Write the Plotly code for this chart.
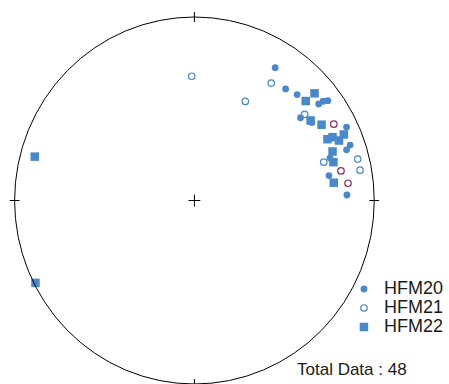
import plotly.graph_objects as go

# Stereonet (equal-area, lower hemisphere) positions in unit-net coordinates
hfm20_x = [0.449, 0.507, 0.571, 0.691, 0.716, 0.742, 0.590, 0.653, 0.846, 0.866, 0.846, 0.754, 0.748, 0.848]
hfm20_y = [0.724, 0.608, 0.577, 0.526, 0.541, 0.544, 0.451, 0.425, 0.400, 0.302, 0.276, 0.231, 0.136, 0.030]

hfm21_x = [-0.015, 0.427, 0.283, 0.613, 0.719, 0.908, 0.921]
hfm21_y = [0.677, 0.640, 0.540, 0.469, 0.209, 0.226, 0.165]

hfm21b_x = [0.775, 0.815, 0.854]
hfm21b_y = [0.416, 0.161, 0.094]

hfm22_x = [0.668, 0.619, 0.646, 0.707, 0.740, 0.768, 0.804, 0.831, 0.768, 0.773, 0.775, -0.888, -0.884]
hfm22_y = [0.584, 0.542, 0.436, 0.413, 0.334, 0.345, 0.327, 0.360, 0.267, 0.209, 0.097, 0.239, -0.449]

series_names = ["HFM20", "HFM21", "HFM22"]
total_label = "Total Data : 48"

BLUE = "#4A88C9"
MAROON = "#8C2E5E"

W, H = 449, 384
CX, CY, R = 198.4, 200.5, 183.5

def lname(s):
    return "<span style='font-size:18px'>" + s + "</span>"

fig = go.Figure()
fig.add_trace(go.Scatter(x=hfm20_x, y=hfm20_y, mode="markers", name=lname(series_names[0]),
                         marker=dict(symbol="circle", size=6.8, color=BLUE, line=dict(width=0))))
fig.add_trace(go.Scatter(x=hfm21_x, y=hfm21_y, mode="markers", name=lname(series_names[1]),
                         marker=dict(symbol="circle-open", size=6.5, color=BLUE, line=dict(width=1.2))))
fig.add_trace(go.Scatter(x=hfm21b_x, y=hfm21b_y, mode="markers", showlegend=False,
                         marker=dict(symbol="circle-open", size=6.5, color=MAROON, line=dict(width=1.2))))
fig.add_trace(go.Scatter(x=hfm22_x, y=hfm22_y, mode="markers", name=lname(series_names[2]),
                         marker=dict(symbol="square", size=8.5, color=BLUE, line=dict(width=0))))

shapes = [dict(type="circle", xref="x", yref="y", x0=-1, y0=-1, x1=1, y1=1,
               line=dict(color="black", width=1))]
t = 5 / R
c = 6 / R
for (px, py) in [(0, 1), (0, -1)]:
    shapes.append(dict(type="line", x0=px, x1=px, y0=py - t, y1=py + t, line=dict(color="black", width=1)))
for (px, py) in [(1, 0), (-1, 0)]:
    shapes.append(dict(type="line", x0=px - t, x1=px + t, y0=py, y1=py, line=dict(color="black", width=1)))
shapes.append(dict(type="line", x0=-c, x1=c, y0=0, y1=0, line=dict(color="black", width=1)))
shapes.append(dict(type="line", x0=0, x1=0, y0=-c, y1=c, line=dict(color="black", width=1)))

fig.update_layout(
    width=W, height=H,
    margin=dict(l=0, r=0, t=0, b=0),
    paper_bgcolor="white", plot_bgcolor="white",
    font=dict(family="Liberation Sans, Arial, sans-serif", color="#1a1a1a"),
    xaxis=dict(range=[-CX / R, (W - CX) / R], visible=False, showgrid=False, zeroline=False, fixedrange=True),
    yaxis=dict(range=[-(H - CY) / R, CY / R], visible=False, showgrid=False, zeroline=False, fixedrange=True),
    shapes=shapes,
    showlegend=True,
    hovermode=False,
    legend=dict(x=351 / W, y=1 - 274.5 / H, xanchor="left", yanchor="top",
                font=dict(size=12, family="Liberation Sans, Arial, sans-serif", color="#1a1a1a"),
                bgcolor="rgba(0,0,0,0)", borderwidth=0, tracegroupgap=0),
    annotations=[dict(text=total_label, x=301.5 / W, y=1 - 369 / H, xref="paper", yref="paper",
                      xanchor="left", yanchor="middle", showarrow=False,
                      font=dict(size=17, family="Liberation Sans, Arial, sans-serif", color="#1a1a1a"))],
)

fig.write_html("out.html",
               config={"displayModeBar": False, "staticPlot": True},
               post_script="document.body.style.margin='0';document.documentElement.style.overflow='hidden';document.body.style.overflow='hidden';")
